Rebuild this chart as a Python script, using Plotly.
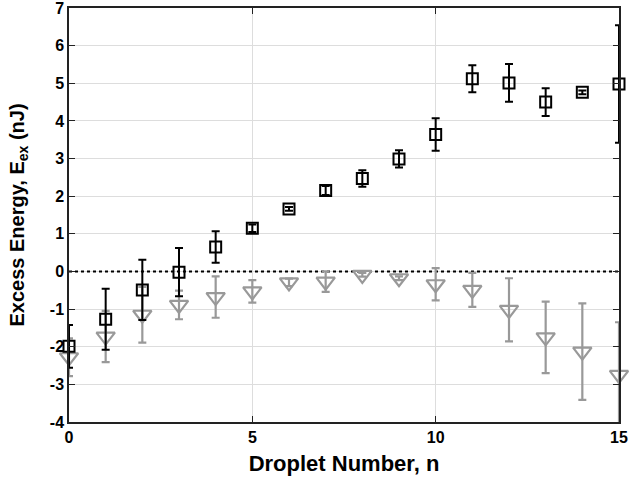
import plotly.graph_objects as go

n = list(range(16))
black_y = [-1.99, -1.27, -0.49, -0.02, 0.65, 1.15, 1.66, 2.15, 2.47, 2.99, 3.64, 5.12, 5.01, 4.50, 4.76, 4.98]
black_err = [0.57, 0.81, 0.80, 0.64, 0.42, 0.10, 0.05, 0.12, 0.22, 0.23, 0.43, 0.36, 0.50, 0.37, 0.05, 1.56]
gray_y = [-2.28, -1.73, -1.15, -0.89, -0.68, -0.53, -0.29, -0.27, -0.09, -0.18, -0.34, -0.49, -1.02, -1.75, -2.13, -2.75]
gray_err = [0.50, 0.68, 0.74, 0.38, 0.55, 0.30, 0.10, 0.27, 0.05, 0.05, 0.43, 0.45, 0.84, 0.95, 1.28, 1.40]
zero_x = [0, 15]
zero_y = [0, 0]

fig = go.Figure()
fig.add_trace(go.Scatter(
    x=zero_x, y=zero_y, mode="lines",
    line=dict(color="black", width=2, dash="dot"),
    showlegend=False, hoverinfo="skip"))
fig.add_trace(go.Scatter(
    x=n, y=gray_y, mode="markers",
    marker=dict(symbol="triangle-down-open", size=16, color="#999999", line=dict(width=2.2, color="#999999")),
    error_y=dict(type="data", array=gray_err, visible=True, color="#999999", thickness=2.2, width=4),
    cliponaxis=False, showlegend=False))
fig.add_trace(go.Scatter(
    x=n, y=black_y, mode="markers",
    marker=dict(symbol="square-open", size=11, color="black", line=dict(width=2, color="black")),
    error_y=dict(type="data", array=black_err, visible=True, color="black", thickness=2, width=4),
    cliponaxis=False, showlegend=False))

font_family = "Liberation Sans, Arial, sans-serif"
fig.update_layout(
    width=629, height=480,
    margin=dict(l=69, r=10, t=8, b=58, autoexpand=False),
    plot_bgcolor="white", paper_bgcolor="white",
    font=dict(family=font_family, color="black"),
    xaxis=dict(
        range=[0, 15], tickvals=[0, 5, 10, 15],
        ticktext=["<b>0</b>", "<b>5</b>", "<b>10</b>", "<b>15</b>"],
        tickfont=dict(size=16, family=font_family),
        showgrid=True, gridcolor="#dddddd", gridwidth=1,
        zeroline=False, showline=True, linecolor="#222222", linewidth=1.5,
        mirror="ticks", ticks="inside", ticklen=6, tickcolor="#222222",
        automargin=False, ticklabeloverflow="allow",
        title=dict(text="<b>Droplet Number, n</b>", font=dict(size=22, family=font_family), standoff=11),
    ),
    yaxis=dict(
        range=[-4, 7], tickvals=list(range(-4, 8)),
        ticktext=["<b>%d</b>" % v for v in range(-4, 8)],
        tickfont=dict(size=16, family=font_family),
        showgrid=True, gridcolor="#dddddd", gridwidth=1,
        zeroline=False, showline=True, linecolor="#222222", linewidth=1.5,
        mirror="ticks", ticks="inside", ticklen=6, tickcolor="#222222",
        automargin=False, ticklabeloverflow="allow",
        title=dict(text="<b>Excess Energy, E<sub>ex</sub> (nJ)</b>", font=dict(size=20, family=font_family), standoff=20),
    ),
)
fig.write_html("out.html", config={"displayModeBar": False},
               post_script="document.body.style.margin='0px';")
